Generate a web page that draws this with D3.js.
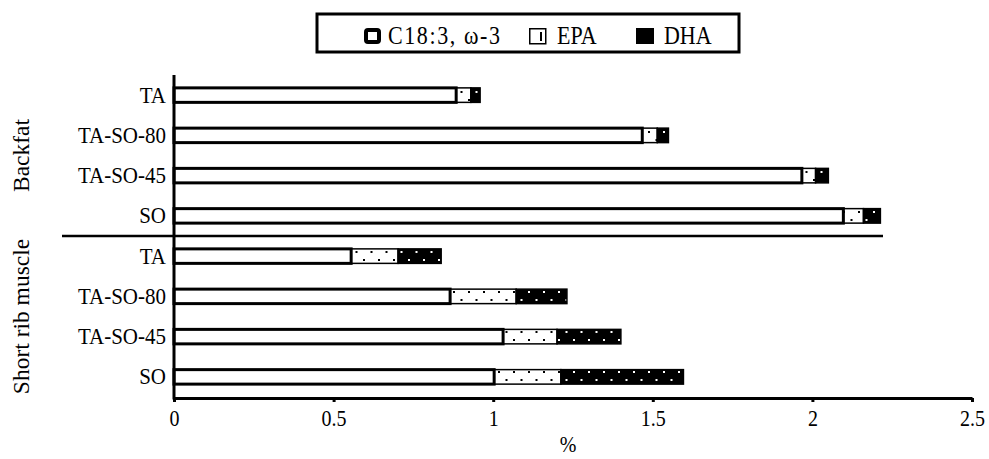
<!DOCTYPE html>
<html>
<head>
<meta charset="utf-8">
<script src="https://d3js.org/d3.v7.min.js"></script>
<style>
  body { margin: 0; background: #fff; }
  svg text { font-family: "Liberation Serif", "Times New Roman", serif; fill: #000; }
  .axis path, .axis line { stroke: #000; }
  /* the scanned figure is a little taller than wide */
  .tall { transform-box: fill-box; transform-origin: center; transform: scaleY(1.12); }
</style>
</head>
<body>
<div id="chart"></div>
<script>
// data
const groups = ["Backfat", "Short rib muscle"];
const categories = ["TA", "TA-SO-80", "TA-SO-45", "SO"];
const seriesNames = ["C18:3, \u03c9-3", "EPA", "DHA"];
// rows: backfat TA, TA-SO-80, TA-SO-45, SO, then short rib muscle in the same order
const c183 = [0.884, 1.467, 1.967, 2.097, 0.555, 0.865, 1.031, 1.003];
const epa  = [0.046, 0.047, 0.043, 0.063, 0.147, 0.207, 0.169, 0.209];
const dha  = [0.029, 0.035, 0.040, 0.053, 0.135, 0.159, 0.200, 0.384];
const xTicks = [0, 0.5, 1, 1.5, 2, 2.5];

const W = 989, H = 459;

const rows = [];
groups.forEach((g, gi) => categories.forEach((c, ci) => {
  const i = gi * categories.length + ci;
  rows.push({ key: g + "|" + c, group: g, cat: c, vals: [c183[i], epa[i], dha[i]] });
}));

const svg = d3.select("#chart").append("svg")
  .attr("width", W).attr("height", H);

const defs = svg.append("defs");
// sparse dots: black on white for EPA, white on black for DHA
function dots(id, bg, fg) {
  const p = defs.append("pattern").attr("id", id)
    .attr("patternUnits", "userSpaceOnUse").attr("width", 15).attr("height", 16);
  p.append("rect").attr("width", 15).attr("height", 16).attr("fill", bg);
  p.append("rect").attr("x", 3).attr("y", 3).attr("width", 2).attr("height", 2).attr("fill", fg);
  p.append("rect").attr("x", 10.5).attr("y", 11).attr("width", 2).attr("height", 2).attr("fill", fg);
}
dots("dotsEpa", "#fff", "#000");
dots("dotsDha", "#000", "#fff");

const x = d3.scaleLinear().domain([0, 2.5]).range([174, 972]);
const y = d3.scaleBand().domain(rows.map(d => d.key)).range([75, 397])
  .paddingInner(0.64).paddingOuter(0.32);

// stacked segments
const segs = [];
rows.forEach(r => {
  let acc = 0;
  r.vals.forEach((v, si) => {
    segs.push({ key: r.key, s: si, x0: acc, x1: acc + v });
    acc += v;
  });
});

const fills = ["#fff", "url(#dotsEpa)", "url(#dotsDha)"];
const strokeW = [3, 1.5, 1.5];

// EPA / DHA first, C18:3 on top so its heavy outline stays whole
svg.append("g").selectAll("rect")
  .data(segs.filter(d => d.s > 0))
  .join("rect")
  .attr("x", d => x(d.x0))
  .attr("y", d => y(d.key))
  .attr("width", d => x(d.x1) - x(d.x0))
  .attr("height", y.bandwidth())
  .attr("fill", d => fills[d.s])
  .attr("stroke", "#000")
  .attr("stroke-width", d => strokeW[d.s]);

svg.append("g").selectAll("rect")
  .data(segs.filter(d => d.s === 0))
  .join("rect")
  .attr("x", d => x(d.x0))
  .attr("y", d => y(d.key))
  .attr("width", d => x(d.x1) - x(d.x0))
  .attr("height", y.bandwidth())
  .attr("fill", fills[0])
  .attr("stroke", "#000")
  .attr("stroke-width", strokeW[0]);

// x axis
const xAxis = svg.append("g").attr("class", "axis")
  .attr("transform", `translate(0,${398})`)
  .call(d3.axisBottom(x).tickValues(xTicks).tickFormat(d => String(d))
    .tickSizeInner(4).tickSizeOuter(0).tickPadding(9));
xAxis.select(".domain").attr("stroke-width", 3);
xAxis.selectAll(".tick line").attr("stroke-width", 3);
xAxis.selectAll("text").style("font-size", "20px").attr("class", "tall");

// y axis with category labels
const catOf = {};
rows.forEach(r => { catOf[r.key] = r.cat; });
const yAxis = svg.append("g").attr("class", "axis")
  .attr("transform", `translate(${174},0)`)
  .call(d3.axisLeft(y).tickFormat(k => catOf[k]).tickSize(0).tickPadding(8));
yAxis.select(".domain").attr("stroke-width", 3).attr("d", `M0,${75}V${399.5}`);
yAxis.selectAll("text").style("font-size", "21px").attr("class", "tall");

// separator between the two groups
const lastBackfat = rows[categories.length - 1].key;
const firstMuscle = rows[categories.length].key;
const sepY = (y(lastBackfat) + y.bandwidth() + y(firstMuscle)) / 2;
svg.append("line")
  .attr("x1", 62).attr("x2", 883)
  .attr("y1", sepY).attr("y2", sepY)
  .attr("stroke", "#000").attr("stroke-width", 2.5);

// group labels (rotated)
groups.forEach(g => {
  const keys = rows.filter(r => r.group === g).map(r => r.key);
  const cy = (y(keys[0]) + y(keys[keys.length - 1]) + y.bandwidth()) / 2;
  svg.append("text")
    .attr("transform", `translate(${29},${cy}) rotate(-90)`)
    .attr("text-anchor", "middle")
    .style("font-size", "23.5px")
    .text(g);
});

// x title
svg.append("text")
  .attr("class", "tall")
  .attr("x", 568).attr("y", 451)
  .attr("text-anchor", "middle")
  .style("font-size", "20px")
  .text("%");

// legend
const lg = svg.append("g");
lg.append("rect")
  .attr("x", 317).attr("y", 14).attr("width", 422).attr("height", 38)
  .attr("fill", "#fff").attr("stroke", "#000").attr("stroke-width", 3);
const legX = [364, 529, 636];
seriesNames.forEach((name, si) => {
  const g = lg.append("g").attr("transform", `translate(${legX[si]},${28})`);
  if (si === 0) {
    g.append("rect").attr("x", 2).attr("y", 2).attr("width", 13).attr("height", 12)
      .attr("rx", 2).attr("fill", "#fff").attr("stroke", "#000").attr("stroke-width", 4);
  } else if (si === 1) {
    g.append("rect").attr("x", 0.75).attr("y", 0.75).attr("width", 16).attr("height", 15)
      .attr("fill", "#fff").attr("stroke", "#000").attr("stroke-width", 1.5);
    g.append("rect").attr("x", 11).attr("y", 4).attr("width", 2).attr("height", 9).attr("fill", "#000");
  } else {
    g.append("rect").attr("width", 18).attr("height", 16).attr("fill", "#000");
  }
  const t = g.append("text")
    .attr("class", "tall")
    .attr("x", si === 0 ? 24 : 28).attr("y", 15)
    .style("font-size", "22px")
    .text(name);
  if (si === 0) t.attr("textLength", 112).attr("lengthAdjust", "spacing");
});
</script>
</body>
</html>
